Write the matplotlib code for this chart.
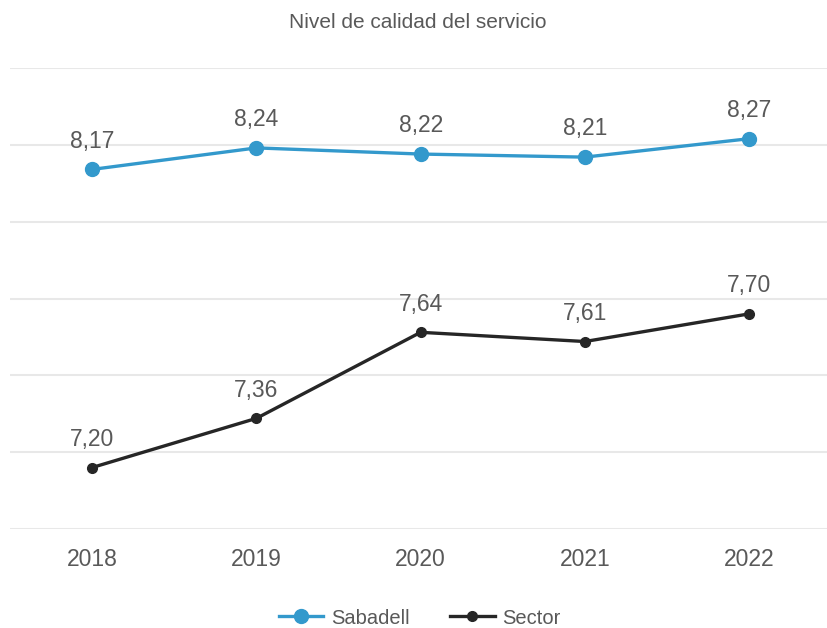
import matplotlib.pyplot as plt
from matplotlib import font_manager

years = ["2018", "2019", "2020", "2021", "2022"]
sabadell = [8.17, 8.24, 8.22, 8.21, 8.27]
sector = [7.20, 7.36, 7.64, 7.61, 7.70]

names = {f.name for f in font_manager.fontManager.ttflist}
fam = "Liberation Sans" if "Liberation Sans" in names else "DejaVu Sans"
plt.rcParams['font.family'] = [fam, 'DejaVu Sans']

txt = "#595959"
blue = "#3399cc"
dark = "#262626"

fig = plt.figure(figsize=(8.28, 6.28), dpi=100)
ax = fig.add_axes([10/828, 1 - 529/628, 818/828, (529-68)/628])

x = range(len(years))
ax.plot(x, sabadell, color=blue, lw=2.4, marker="o", ms=10, label="Sabadell", zorder=3)
ax.plot(x, sector, color=dark, lw=2.4, marker="o", ms=7, label="Sector", zorder=3)

for i in x:
    ax.annotate(f"{sabadell[i]:.2f}".replace(".", ","), (i, sabadell[i]), xytext=(0, 12),
                textcoords="offset points", ha="center", va="bottom", fontsize=16.5, color=txt)
    ax.annotate(f"{sector[i]:.2f}".replace(".", ","), (i, sector[i]), xytext=(0, 12),
                textcoords="offset points", ha="center", va="bottom", fontsize=16.5, color=txt)

ax.set_xlim(-0.5, 4.48)
ax.set_ylim(7.0, 8.5)
ax.set_yticks([7.0, 7.25, 7.5, 7.75, 8.0, 8.25, 8.5])
ax.set_yticklabels([])
ax.tick_params(axis="y", length=0)
ax.set_xticks(list(x))
ax.set_xticklabels(years, fontsize=16.5, color=txt)
ax.tick_params(axis="x", length=0, pad=14)
ax.grid(axis="y", color="#e8e8e8", lw=1.5)
ax.set_axisbelow(True)
for s in ax.spines.values():
    s.set_visible(False)

fig.text(418/828, 1 - 22/628, "Nivel de calidad del servicio", ha="center", va="center",
         fontsize=15, color=txt)
fig.legend(loc="center", bbox_to_anchor=(420/828, 1 - 618/628), ncol=2, frameon=False,
           fontsize=14.5, labelcolor=txt, handlelength=2.2, columnspacing=2.0, handletextpad=0.4)

fig.savefig("out.png", dpi=100)
